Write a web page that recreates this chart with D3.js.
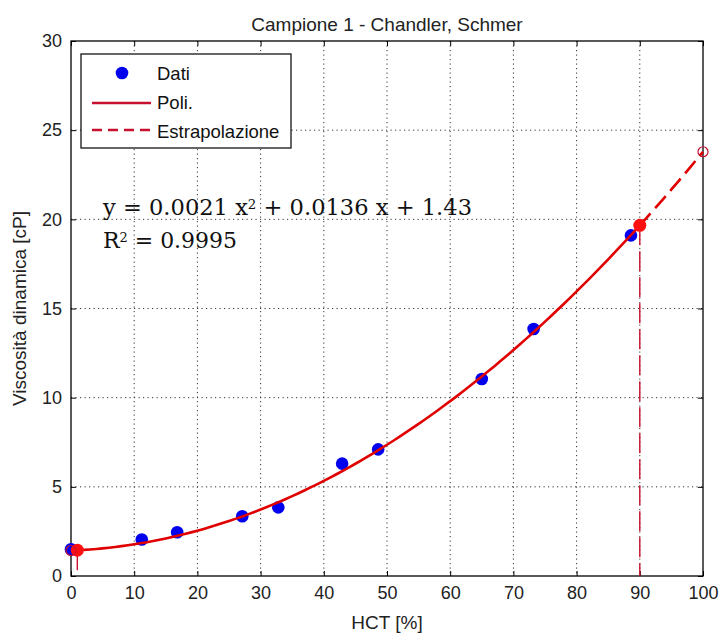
<!DOCTYPE html>
<html>
<head>
<meta charset="utf-8">
<script src="https://cdn.jsdelivr.net/npm/d3@7"></script>
<style>
  body { margin: 0; background: #fff; }
  svg { display: block; font-family: "Liberation Sans", Arial, sans-serif; }
</style>
</head>
<body>
<svg id="chart" width="721" height="634"></svg>
<script>
// measured data (HCT %, viscosity cP)
const hct = [0, 11.2, 16.8, 27.1, 32.8, 42.9, 48.6, 65.0, 73.2, 88.6];
const visc = [1.5, 2.05, 2.45, 3.35, 3.85, 6.3, 7.1, 11.05, 13.85, 19.1];

// polynomial fit shown on the chart: a x^2 + b x + c
const coeffs = [0.0021, 0.0136, 1.43];
const fitRange = [0, 90];
const extraRange = [90, 100];
const markedX = [1, 90]; // filled red points with drop lines
const openX = [0, 100]; // hollow circles at the ends

const xTicks = [0, 10, 20, 30, 40, 50, 60, 70, 80, 90, 100];
const yTicks = [0, 5, 10, 15, 20, 25, 30];

const MARGIN = { top: 41, right: 18, bottom: 58, left: 71 };
const RED = "#e00000";
const DARKRED = "#c8102e";
const SERIF = "'DejaVu Serif', 'Liberation Serif', serif";

const svg = d3.select("#chart");
const width = +svg.attr("width") - MARGIN.left - MARGIN.right;
const height = +svg.attr("height") - MARGIN.top - MARGIN.bottom;

const x = d3.scaleLinear().domain([0, 100]).range([0, width]);
const y = d3.scaleLinear().domain([0, 30]).range([height, 0]);

const poly = function (v) {
  return coeffs[0] * v * v + coeffs[1] * v + coeffs[2];
};

const g = svg
  .append("g")
  .attr("transform", "translate(" + MARGIN.left + "," + MARGIN.top + ")");

// dotted grid
g.append("g")
  .selectAll("line")
  .data(xTicks.slice(1, -1))
  .enter()
  .append("line")
  .attr("x1", (d) => x(d))
  .attr("x2", (d) => x(d))
  .attr("y1", 0)
  .attr("y2", height)
  .attr("stroke", "#333")
  .attr("stroke-dasharray", "1.2,3.3");

g.append("g")
  .selectAll("line")
  .data(yTicks.slice(1, -1))
  .enter()
  .append("line")
  .attr("y1", (d) => y(d))
  .attr("y2", (d) => y(d))
  .attr("x1", 0)
  .attr("x2", width)
  .attr("stroke", "#333")
  .attr("stroke-dasharray", "1.2,3.3");

// axes, ticks pointing inward (matlab style)
const axisStyle = function (sel) {
  sel.select(".domain").remove();
  sel.selectAll("text").attr("font-size", 18).attr("font-family", null).attr("fill", "#222");
  sel.selectAll("line").attr("stroke", "#000");
};

g.append("g")
  .attr("transform", "translate(0," + height + ")")
  .call(d3.axisBottom(x).tickValues(xTicks).tickSizeInner(-5).tickPadding(10))
  .call(axisStyle);

g.append("g")
  .call(d3.axisLeft(y).tickValues(yTicks).tickSizeInner(-5).tickPadding(9))
  .call(axisStyle);

g.append("g")
  .call(d3.axisTop(x).tickValues(xTicks).tickSizeInner(-5).tickFormat(""))
  .call(axisStyle);

g.append("g")
  .attr("transform", "translate(" + width + ",0)")
  .call(d3.axisRight(y).tickValues(yTicks).tickSizeInner(-5).tickFormat(""))
  .call(axisStyle);

g.append("rect")
  .attr("width", width)
  .attr("height", height)
  .attr("fill", "none")
  .attr("stroke", "#000")
  .attr("stroke-width", 1.3);

// drop lines from marked points
g.append("g")
  .selectAll("line")
  .data(markedX)
  .enter()
  .append("line")
  .attr("x1", (d) => x(d))
  .attr("x2", (d) => x(d))
  .attr("y1", (d) => y(poly(d)))
  .attr("y2", height)
  .attr("stroke", DARKRED)
  .attr("stroke-width", 1.4)
  .attr("stroke-dasharray", "20,6");

// data points
g.append("g")
  .selectAll("circle")
  .data(hct)
  .enter()
  .append("circle")
  .attr("cx", (d) => x(d))
  .attr("cy", (d, i) => y(visc[i]))
  .attr("r", 6.3)
  .attr("fill", "#0000ee");

// fitted curve and extrapolation
const line = d3
  .line()
  .x((d) => x(d))
  .y((d) => y(poly(d)));

g.append("path")
  .attr("d", line(d3.range(fitRange[0], fitRange[1] + 0.5, 1)))
  .attr("fill", "none")
  .attr("stroke", RED)
  .attr("stroke-width", 2.6);

g.append("path")
  .attr("d", line(d3.range(extraRange[0], extraRange[1] + 0.5, 1)))
  .attr("fill", "none")
  .attr("stroke", RED)
  .attr("stroke-width", 2.6)
  .attr("stroke-dasharray", "16,7");

g.append("g")
  .selectAll("circle")
  .data(markedX)
  .enter()
  .append("circle")
  .attr("cx", (d) => x(d))
  .attr("cy", (d) => y(poly(d)))
  .attr("r", 6.5)
  .attr("fill", "#ff1010");

g.append("g")
  .selectAll("circle")
  .data(openX)
  .enter()
  .append("circle")
  .attr("cx", (d) => x(d))
  .attr("cy", (d) => y(poly(d)))
  .attr("r", 5)
  .attr("fill", "none")
  .attr("stroke", DARKRED)
  .attr("stroke-width", 1.2);

// equation text (serif, like the excel-style trendline label)
const eq = g
  .append("text")
  .attr("x", 32)
  .attr("y", 174)
  .style("font-family", SERIF)
  .attr("font-size", 22)
  .attr("fill", "#111")
  .attr("textLength", 369)
  .attr("lengthAdjust", "spacingAndGlyphs");
eq.append("tspan").text("y = 0.0021 x");
eq.append("tspan").attr("font-size", 13).attr("dy", -6).text("2");
eq.append("tspan").attr("dy", 6).text(" + 0.0136 x + 1.43");

const r2 = g
  .append("text")
  .attr("x", 32)
  .attr("y", 207)
  .style("font-family", SERIF)
  .attr("font-size", 22)
  .attr("fill", "#111")
  .attr("textLength", 134)
  .attr("lengthAdjust", "spacingAndGlyphs");
r2.append("tspan").text("R");
r2.append("tspan").attr("font-size", 13).attr("dy", -6).text("2");
r2.append("tspan").attr("dy", 6).text(" = 0.9995");

// legend
const legend = g.append("g").attr("transform", "translate(10,13)");
legend
  .append("rect")
  .attr("width", 210)
  .attr("height", 94)
  .attr("fill", "#fff")
  .attr("stroke", "#000")
  .attr("stroke-width", 1.2);

legend
  .append("circle")
  .attr("cx", 41)
  .attr("cy", 19)
  .attr("r", 6.3)
  .attr("fill", "#0000ee");
legend
  .append("line")
  .attr("x1", 11)
  .attr("x2", 70)
  .attr("y1", 49)
  .attr("y2", 49)
  .attr("stroke", DARKRED)
  .attr("stroke-width", 2.6);
legend
  .append("line")
  .attr("x1", 11)
  .attr("x2", 70)
  .attr("y1", 76)
  .attr("y2", 76)
  .attr("stroke", DARKRED)
  .attr("stroke-width", 2.6)
  .attr("stroke-dasharray", "10,6");

const legendLabels = ["Dati", "Poli.", "Estrapolazione"];
legend
  .selectAll(".lbl")
  .data(legendLabels)
  .enter()
  .append("text")
  .attr("class", "lbl")
  .attr("x", 76)
  .attr("y", (d, i) => 26 + i * 29)
  .attr("font-size", 18.5)
  .attr("fill", "#111")
  .text((d) => d);

// title and axis labels
svg
  .append("text")
  .attr("x", MARGIN.left + width / 2)
  .attr("y", 31)
  .attr("text-anchor", "middle")
  .attr("font-size", 19)
  .attr("fill", "#222")
  .text("Campione 1 - Chandler, Schmer");

svg
  .append("text")
  .attr("x", MARGIN.left + width / 2)
  .attr("y", 629)
  .attr("text-anchor", "middle")
  .attr("font-size", 19)
  .attr("fill", "#222")
  .text("HCT [%]");

svg
  .append("text")
  .attr("transform", "translate(26," + (MARGIN.top + height / 2) + ") rotate(-90)")
  .attr("text-anchor", "middle")
  .attr("font-size", 19)
  .attr("fill", "#222")
  .text("Viscosità dinamica [cP]");
</script>
</body>
</html>
